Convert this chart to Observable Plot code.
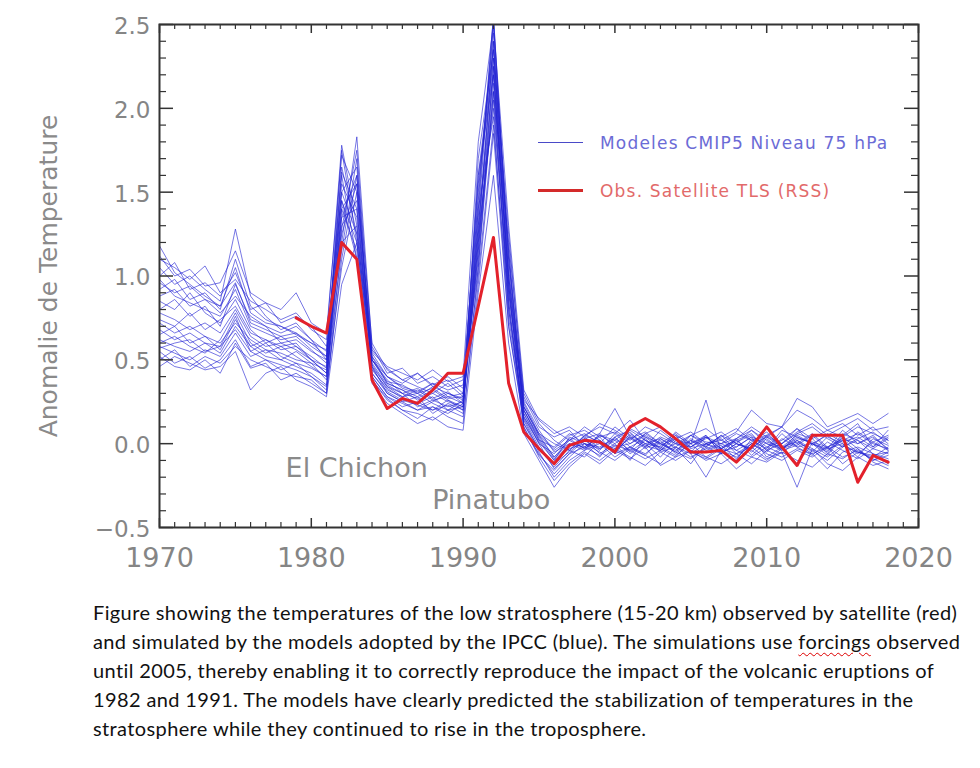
<!DOCTYPE html>
<html><head><meta charset="utf-8">
<script src="https://cdn.jsdelivr.net/npm/d3@7"></script>
<script src="https://cdn.jsdelivr.net/npm/@observablehq/plot@0.6"></script>
<style>
body{margin:0;background:#fff;}
#wrap{position:relative;width:980px;height:580px;}
.leg{position:absolute;font-family:"DejaVu Sans";font-size:17px;letter-spacing:1.2px;line-height:20px;white-space:nowrap;}
.legline{position:absolute;height:0;}
#caption{font-family:Lato,"Open Sans",sans-serif;font-size:20px;letter-spacing:0.38px;color:#111;line-height:29px;padding-left:93px;margin-top:18px;}
#caption div{white-space:nowrap;}
.sp{text-decoration:underline wavy #d00;text-decoration-thickness:1px;text-underline-offset:3px;}
</style></head><body>
<div id="wrap">
  <div class="legline" style="left:538px;top:142px;width:45px;border-top:1.5px solid #4a4ac8;"></div>
  <div class="leg" style="left:600px;top:133px;color:#6b6bd6;">Modeles CMIP5 Niveau 75 hPa</div>
  <div class="legline" style="left:538px;top:189px;width:45px;border-top:3.5px solid #d42a2a;"></div>
  <div class="leg" style="left:600px;top:181px;color:#e26a6a;">Obs. Satellite TLS (RSS)</div>
</div>
<div id="caption">
<div>Figure showing the temperatures of the low stratosphere (15-20 km) observed by satellite (red)</div>
<div>and simulated by the models adopted by the IPCC (blue). The simulations use <span class="sp">forcings</span> observed</div>
<div>until 2005, thereby enabling it to correctly reproduce the impact of the volcanic eruptions of</div>
<div>1982 and 1991. The models have clearly predicted the stabilization of temperatures in the</div>
<div>stratosphere while they continued to rise in the troposphere.</div>
</div>
<script>
const years = [1970,1971,1972,1973,1974,1975,1976,1977,1978,1979,1980,1981,1982,1983,1984,1985,1986,1987,1988,1989,1990,1991,1992,1993,1994,1995,1996,1997,1998,1999,2000,2001,2002,2003,2004,2005,2006,2007,2008,2009,2010,2011,2012,2013,2014,2015,2016,2017,2018];

const models = [
[1.18,1.02,0.95,0.88,0.82,1.05,0.78,0.72,0.70,0.65,0.60,0.52, 1.45,1.20, 0.50, 0.40,0.33,0.30,0.36,0.28,0.30, 1.30,2.30,0.95, 0.22, 0.05,-0.08,0.02,0.06,0.00,0.10,0.03,-0.02,0.08,0.01,-0.05,0.04,-0.03,0.02,0.06,-0.04,0.00,0.09,0.03,-0.06,0.05,0.12,-0.02,0.04],
[1.10,1.05,0.98,1.06,0.90,0.98,0.85,0.80,0.74,0.78,0.68,0.62, 1.78,1.30, 0.55, 0.45,0.38,0.42,0.35,0.40,0.33, 1.10,2.10,1.20, 0.30, 0.12,0.02,-0.04,0.05,0.10,0.06,0.14,0.02,-0.03,0.07,0.00,0.05,-0.06,0.03,0.08,0.00,-0.04,0.06,0.10,0.03,-0.02,0.07,0.01,0.05],
[1.05,0.95,1.00,0.92,0.85,1.28,0.88,0.76,0.68,0.72,0.62,0.55, 1.20,1.83, 0.58, 0.42,0.45,0.36,0.40,0.34,0.38, 1.45,2.55,1.10, 0.25, 0.08,-0.05,0.00,-0.02,0.04,-0.06,0.05,0.00,-0.08,0.02,0.00,0.26,-0.05,-0.10,0.03,-0.04,0.06,-0.02,0.00,-0.07,0.04,-0.03,-0.10,-0.05],
[0.98,0.88,0.84,0.80,0.76,0.92,0.70,0.66,0.62,0.64,0.56,0.48, 1.60,1.10, 0.42, 0.30,0.25,0.20,0.22,0.18,0.24, 1.20,2.40,0.85, 0.15, -0.02,-0.12,-0.05,0.03,-0.06,0.00,-0.10,0.04,-0.03,-0.08,0.02,-0.04,-0.01,-0.09,0.00,-0.05,0.03,-0.02,-0.07,0.01,-0.04,-0.09,-0.03,-0.06],
[0.92,0.98,0.86,0.90,0.80,1.10,0.82,0.74,0.70,0.66,0.60,0.56, 1.50,1.65, 0.60, 0.44,0.38,0.34,0.30,0.36,0.28, 1.60,2.20,1.00, 0.28, 0.10,0.04,0.08,-0.02,0.05,0.02,0.09,0.04,0.00,0.06,-0.02,0.03,0.07,0.00,-0.03,0.05,0.10,0.20,0.15,0.08,0.12,0.05,0.10,0.02],
[0.85,0.80,0.90,0.78,0.72,0.86,0.68,0.60,0.64,0.58,0.52,0.45, 1.35,1.40, 0.45, 0.32,0.28,0.30,0.24,0.20,0.26, 1.00,1.90,0.80, 0.18, 0.00,-0.15,-0.06,0.02,-0.04,0.06,-0.02,-0.07,0.03,-0.03,-0.12,0.00,-0.05,-0.02,0.04,-0.08,-0.02,0.01,-0.04,-0.10,-0.02,0.02,-0.06,-0.12],
[0.80,0.86,0.76,0.82,0.70,0.95,0.74,0.70,0.60,0.62,0.55,0.50, 1.65,1.25, 0.52, 0.36,0.32,0.26,0.30,0.25,0.22, 1.35,2.50,1.05, 0.20, 0.02,-0.10,-0.03,0.00,-0.08,0.04,-0.05,0.02,-0.04,0.05,-0.06,0.00,-0.03,0.03,-0.07,0.01,-0.02,-0.12,0.00,-0.04,0.02,-0.05,-0.08,-0.02],
[0.74,0.70,0.78,0.68,0.74,0.82,0.66,0.62,0.58,0.60,0.50,0.42, 1.25,1.55, 0.48, 0.35,0.30,0.33,0.27,0.31,0.24, 1.25,2.00,0.90, 0.24, 0.06,-0.03,0.05,0.08,0.02,-0.04,0.06,0.00,0.03,-0.02,0.05,0.01,0.00,0.06,0.02,-0.03,0.08,0.04,0.00,0.05,-0.02,0.03,0.07,0.00],
[0.68,0.62,0.66,0.60,0.58,0.76,0.55,0.60,0.52,0.48,0.45,0.40, 1.15,1.70, 0.40, 0.28,0.22,0.25,0.20,0.23,0.18, 1.50,2.45,1.15, 0.12, -0.05,-0.20,-0.10,-0.04,0.00,-0.08,-0.02,-0.06,0.01,-0.05,-0.09,-0.02,-0.06,0.00,-0.04,-0.10,-0.03,0.00,-0.06,-0.02,-0.08,-0.04,-0.10,-0.07],
[0.62,0.58,0.55,0.60,0.54,0.70,0.58,0.52,0.50,0.55,0.48,0.38, 1.40,1.15, 0.38, 0.26,0.20,0.15,0.22,0.16,0.12, 1.05,2.25,0.95, 0.10, -0.08,-0.22,-0.12,-0.05,-0.10,-0.03,-0.08,-0.13,-0.05,-0.10,-0.04,-0.08,-0.12,-0.06,-0.02,-0.09,-0.05,-0.10,-0.14,-0.06,-0.09,-0.03,-0.11,-0.15],
[0.58,0.54,0.50,0.56,0.52,0.66,0.52,0.56,0.50,0.46,0.42,0.35, 1.30,1.45, 0.44, 0.33,0.27,0.24,0.28,0.20,0.22, 1.15,2.15,0.75, 0.16, 0.00,-0.06,0.03,-0.03,0.02,-0.05,0.04,-0.01,-0.04,0.03,-0.02,0.05,-0.06,0.00,0.08,0.02,-0.03,0.04,0.00,-0.05,0.06,0.02,-0.03,0.03],
[0.55,0.48,0.52,0.45,0.50,0.62,0.46,0.50,0.44,0.48,0.40,0.32, 1.55,1.35, 0.46, 0.30,0.25,0.28,0.18,0.24,0.20, 1.40,1.95,0.70, 0.14, -0.04,-0.12,-0.02,0.04,-0.03,0.02,-0.06,0.00,-0.02,-0.07,0.00,-0.08,-0.02,0.02,-0.05,0.03,-0.04,-0.01,0.05,-0.03,0.00,-0.06,0.01,-0.04],
[0.50,0.56,0.46,0.52,0.48,0.58,0.50,0.46,0.42,0.40,0.38,0.30, 1.10,1.60, 0.50, 0.38,0.30,0.27,0.32,0.26,0.20, 1.70,2.35,1.25, 0.26, 0.15,0.08,0.02,0.10,0.04,0.07,0.00,0.06,0.10,0.03,0.07,0.00,0.04,0.09,0.02,0.05,0.00,0.06,0.03,0.08,0.04,0.10,0.06,0.02],
[0.46,0.52,0.48,0.44,0.46,0.55,0.32,0.42,0.46,0.38,0.34,0.28, 0.95,1.20, 0.36, 0.24,0.18,0.12,0.16,0.10,0.08, 0.90,1.60,0.60, 0.06, -0.10,-0.26,-0.14,-0.06,-0.12,-0.04,-0.09,-0.02,-0.13,-0.08,-0.04,-0.10,-0.06,-0.15,-0.08,-0.11,-0.05,-0.26,-0.03,-0.12,-0.16,-0.08,-0.13,-0.10],
[1.12,1.00,1.04,0.94,0.96,1.15,0.90,0.84,0.80,0.90,0.72,0.66, 1.72,1.50, 0.56, 0.46,0.42,0.38,0.44,0.37,0.40, 1.80,2.50,1.30, 0.32, 0.14,0.06,0.10,0.04,0.12,0.08,0.02,0.10,0.06,0.00,0.05,0.09,0.02,0.07,0.20,0.12,0.10,0.27,0.22,0.10,0.14,0.18,0.12,0.18],
[0.88,0.92,0.82,0.86,0.78,0.88,0.76,0.70,0.66,0.70,0.62,0.50, 1.28,1.75, 0.54, 0.40,0.36,0.42,0.34,0.38,0.30, 1.55,2.30,1.10, 0.20, 0.04,-0.08,0.00,-0.04,0.06,0.21,0.04,-0.03,0.02,-0.06,0.03,-0.02,0.05,-0.04,0.01,0.07,-0.03,0.02,-0.05,0.04,0.00,-0.08,0.03,-0.01],
[0.72,0.66,0.70,0.64,0.60,0.72,0.62,0.56,0.54,0.50,0.48,0.44, 1.45,1.10, 0.40, 0.28,0.24,0.20,0.25,0.30,0.26, 1.20,2.05,0.85, 0.08, -0.06,-0.18,-0.08,0.00,-0.05,-0.10,-0.03,-0.07,-0.12,-0.02,-0.06,-0.20,-0.04,-0.08,0.00,-0.06,-0.10,-0.04,-0.08,-0.02,-0.12,-0.05,-0.09,-0.13],
[0.60,0.64,0.58,0.54,0.62,0.78,0.60,0.54,0.58,0.52,0.46,0.40, 1.35,1.60, 0.47, 0.34,0.30,0.22,0.26,0.28,0.24, 1.30,2.20,1.00, 0.18, 0.02,-0.02,0.06,0.00,-0.03,0.04,0.08,0.02,-0.02,0.05,0.00,0.04,-0.03,0.01,0.05,-0.02,0.02,0.09,-0.01,0.06,0.01,0.04,-0.02,0.08],
[1.00,1.08,0.92,0.96,0.88,1.02,0.80,0.84,0.72,0.76,0.70,0.58, 1.50,1.25, 0.52, 0.40,0.34,0.31,0.36,0.32,0.35, 1.05,2.10,0.90, 0.22, 0.06,0.00,-0.04,0.05,0.01,-0.03,0.03,0.07,0.00,-0.04,0.02,-0.02,0.05,0.00,-0.03,0.04,0.10,0.00,0.06,-0.02,0.03,0.00,0.04,-0.03],
[0.52,0.46,0.44,0.50,0.42,0.60,0.45,0.48,0.38,0.42,0.36,0.30, 1.20,1.30, 0.38, 0.27,0.20,0.18,0.14,0.20,0.16, 0.95,1.85,0.70, 0.12, -0.03,-0.14,-0.04,-0.08,0.02,-0.06,-0.02,0.03,-0.05,-0.02,-0.08,-0.03,0.00,-0.04,-0.08,-0.02,-0.06,0.02,-0.03,-0.08,-0.01,-0.05,-0.07,-0.05],
[0.96,0.90,0.94,0.86,0.82,0.96,0.72,0.68,0.64,0.66,0.58,0.52, 1.62,1.40, 0.50, 0.37,0.35,0.30,0.33,0.27,0.28, 1.40,2.55,1.00, 0.20, 0.03,-0.09,-0.01,0.03,0.06,-0.02,0.00,0.05,-0.01,0.03,-0.03,0.00,0.02,-0.02,0.04,0.00,-0.03,0.03,0.01,-0.02,0.02,0.06,0.00,-0.03],
[0.57,0.60,0.62,0.55,0.58,0.68,0.55,0.50,0.47,0.44,0.40,0.34, 1.05,1.50, 0.42, 0.31,0.26,0.23,0.20,0.26,0.22, 1.25,2.40,0.95, 0.10, -0.07,-0.16,-0.06,-0.02,-0.07,-0.01,-0.04,-0.09,-0.04,0.00,-0.05,-0.09,-0.03,-0.06,-0.12,-0.04,-0.08,-0.03,-0.06,-0.15,-0.05,-0.02,-0.06,-0.09],
[0.78,0.74,0.68,0.72,0.66,0.80,0.64,0.58,0.60,0.56,0.50,0.46, 1.75,1.20, 0.46, 0.34,0.28,0.32,0.26,0.22,0.25, 1.15,2.25,0.80, 0.16, 0.01,-0.10,0.04,0.00,-0.02,0.03,-0.04,0.06,0.00,-0.05,0.05,-0.01,0.03,-0.06,0.00,0.04,-0.02,0.05,0.00,-0.03,0.08,0.00,0.05,-0.04],
[0.65,0.70,0.60,0.64,0.56,0.74,0.58,0.62,0.56,0.58,0.50,0.42, 1.40,1.55, 0.50, 0.36,0.32,0.28,0.34,0.30,0.27, 1.60,2.35,1.15, 0.22, 0.05,-0.04,0.02,-0.03,0.05,0.00,0.07,-0.02,0.04,0.00,-0.02,0.04,0.00,0.03,0.10,0.04,0.00,0.07,0.12,0.05,0.10,0.15,0.08,0.10]
];

const obsYears = [1979,1980,1981,1982,1983,1984,1985,1986,1987,1988,1989,1990,1991,1992,1993,1994,1995,1996,1997,1998,1999,2000,2001,2002,2003,2004,2005,2006,2007,2008,2009,2010,2011,2012,2013,2014,2015,2016,2017,2018];
const obsValues = [0.75,0.70,0.66,1.20,1.10,0.38,0.21,0.27,0.24,0.32,0.42,0.42,0.82,1.23,0.36,0.07,-0.03,-0.12,-0.01,0.02,0.01,-0.05,0.10,0.15,0.10,0.03,-0.05,-0.05,-0.04,-0.11,-0.02,0.10,-0.02,-0.13,0.05,0.05,0.05,-0.23,-0.07,-0.11];

const xTickValues = [1970,1980,1990,2000,2010,2020];
const xTickLabels = ["1970","1980","1990","2000","2010","2020"];
const yTickValues = [2.5,2.0,1.5,1.0,0.5,0.0,-0.5];
const yTickLabels = ["2.5","2.0","1.5","1.0","0.5","0.0","\u22120.5"];
const yAxisTitle = "Anomalie de Temperature";
const annotations = [
  {label:"El Chichon", year:1982, dx:15, dy:-59},
  {label:"Pinatubo", year:1991, dx:13, dy:-27}
];

const modelRows = models.flatMap((vals, m) => vals.map((v, i) => ({model: m, year: years[i], value: v})));
const obsRows = obsYears.map((yr, i) => ({year: yr, value: obsValues[i]}));

const W = 980, H = 580, mL = 159, mR = 62, mT = 24, mB = 53;
const fw = W - mL - mR, fh = H - mT - mB;
const xMinor = d3.range(1971, 2020).filter(d => d % 10 !== 0);
const yMinor = d3.range(-4, 25).map(d => d / 10).filter(d => Math.round(d * 10) % 5 !== 0);
const tickColor = "#333";
const labelColor = "#858585";

const chart = Plot.plot({
  width: W, height: H,
  marginLeft: mL, marginRight: mR, marginTop: mT, marginBottom: mB,
  x: {domain: [1970, 2020], axis: null},
  y: {domain: [-0.5, 2.5], axis: null},
  style: {fontFamily: "DejaVu Sans", background: "white", overflow: "visible"},
  marks: [
    Plot.line(modelRows, {x: "year", y: "value", z: "model", stroke: "#2424d4", strokeWidth: 1, strokeOpacity: 0.62, clip: true}),
    Plot.line(obsRows, {x: "year", y: "value", stroke: "#e3212b", strokeWidth: 3, clip: true}),
    // bottom ticks
    Plot.tickX(xTickValues, {x: d => d, stroke: tickColor, strokeWidth: 1.5, insetTop: fh - 9}),
    Plot.tickX(xMinor, {x: d => d, stroke: tickColor, strokeWidth: 1.2, insetTop: fh - 5}),
    // top ticks
    Plot.tickX(xTickValues, {x: d => d, stroke: tickColor, strokeWidth: 1.5, insetBottom: fh - 9}),
    Plot.tickX(xMinor, {x: d => d, stroke: tickColor, strokeWidth: 1.2, insetBottom: fh - 5}),
    // left ticks
    Plot.tickY(yTickValues, {y: d => d, stroke: tickColor, strokeWidth: 1.5, insetRight: fw - 14}),
    Plot.tickY(yMinor, {y: d => d, stroke: tickColor, strokeWidth: 1.2, insetRight: fw - 7}),
    // right ticks
    Plot.tickY(yTickValues, {y: d => d, stroke: tickColor, strokeWidth: 1.5, insetLeft: fw - 14}),
    Plot.tickY(yMinor, {y: d => d, stroke: tickColor, strokeWidth: 1.2, insetLeft: fw - 7}),
    Plot.frame({stroke: "#333", strokeWidth: 2}),
    // tick labels
    Plot.text(xTickValues, {x: d => d, y: -0.5, text: (d, i) => xTickLabels[i], dy: 31, fontSize: 27, fill: labelColor, textAnchor: "middle"}),
    Plot.text(yTickValues, {x: 1970, y: d => d, text: (d, i) => yTickLabels[i], dx: -9, dy: 2, fontSize: 23, fill: labelColor, textAnchor: "end", letterSpacing: 2}),
    Plot.text([yAxisTitle], {x: 1970, y: 1.0, text: d => d, dx: -111, rotate: -90, fontSize: 25, fill: "#8a8a8a", letterSpacing: 2.7}),
    // annotations
    Plot.text(annotations, {x: "year", y: -0.5, text: "label", fontSize: 27, fill: "#8a8a8a", textAnchor: "middle"})
  ]
});

document.getElementById("wrap").prepend(chart);

// place annotations with their individual offsets
const annTexts = chart.querySelectorAll("g[aria-label='text']");
const annG = annTexts[annTexts.length - 1];
annG.querySelectorAll("text").forEach((t, i) => {
  const a = annotations[i];
  const tr = t.getAttribute("transform") || "";
  t.setAttribute("transform", tr + ` translate(${a.dx},${a.dy})`);
});
</script>
</body></html>
